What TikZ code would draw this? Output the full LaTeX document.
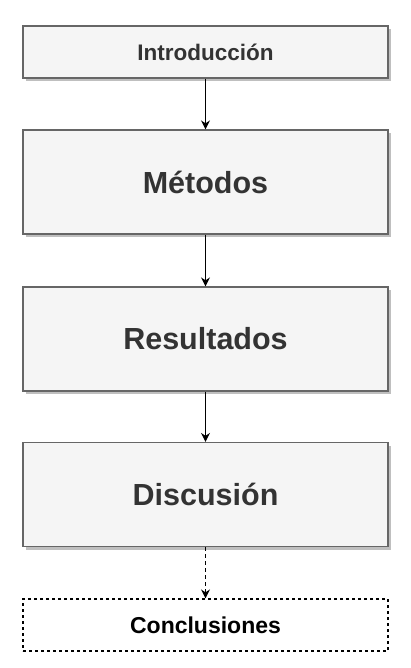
\documentclass[tikz,border=0pt]{standalone}
\usepackage{fontspec}
\setmainfont{Liberation Sans}
\usetikzlibrary{arrows.meta,positioning,shadows}
\definecolor{boxfill}{HTML}{F5F5F5}
\definecolor{boxline}{HTML}{666666}
\definecolor{boxtext}{HTML}{333333}
\tikzset{every picture/.style={line width=1.2pt}}
\tikzstyle{box}=[rectangle,draw=boxline,fill=boxfill,text=boxtext,font=\bfseries,inner sep=0pt,minimum width=365pt,
  drop shadow={shadow xshift=3pt,shadow yshift=-3pt,fill=black!25,opacity=1}]
\tikzstyle{smallbox}=[box,minimum height=52pt,font=\fontsize{22.5}{27}\bfseries\selectfont]
\tikzstyle{bigbox}=[box,minimum height=104pt,font=\fontsize{30.5}{36}\bfseries\selectfont]
\tikzstyle{lastbox}=[rectangle,draw=black,dashed,dash pattern=on 3pt off 3pt,fill=white,inner sep=0pt,minimum width=365pt,
  minimum height=52pt,font=\fontsize{23}{27}\bfseries\selectfont]

\begin{document}
\begin{tikzpicture}[x=1pt,y=-1pt]
\useasboundingbox (0,0) rectangle (411,668);
\node[smallbox] (A) at (205.5,52) {Introducción};
\node[bigbox] (B) at (205.5,182) {Métodos};
\node[bigbox] (C) at (205.5,339) {Resultados};
\node[bigbox] (D) at (205.5,494.5) {Discusión};
\node[lastbox] (E) at (205.5,625) {Conclusiones};
\path[->,>={Stealth[length=9pt,width=9pt]}]
(A) edge (B)
(B) edge (C)
(C) edge (D)
(D) edge[dashed,dash pattern=on 4pt off 3pt] (E);
\end{tikzpicture}
\end{document}
